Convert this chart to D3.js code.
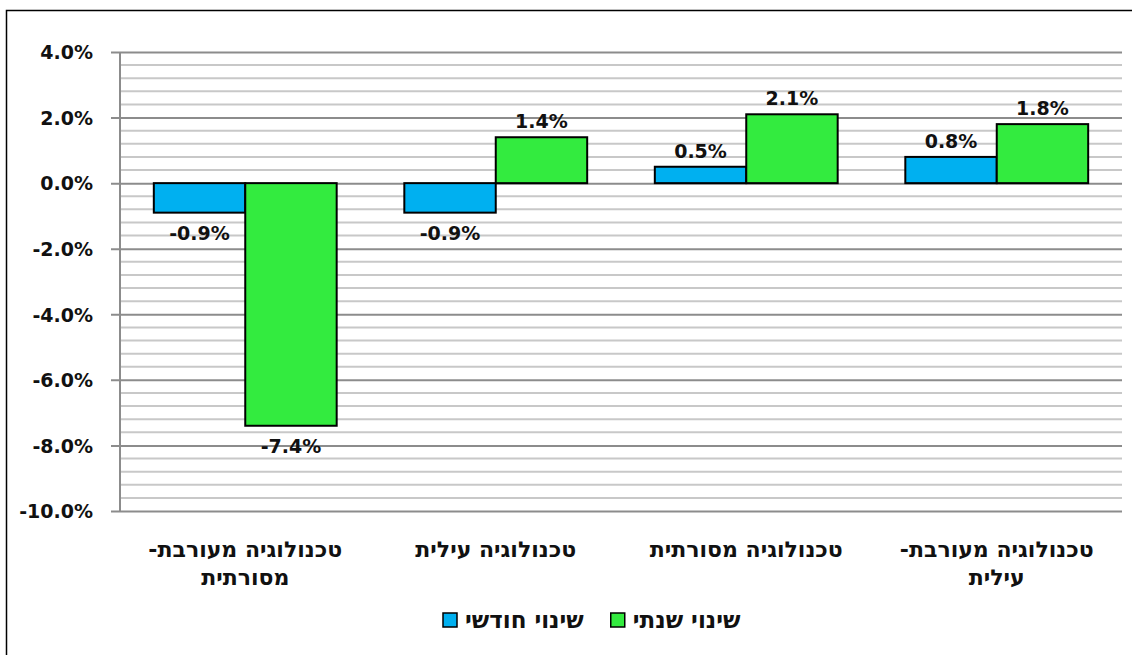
<!DOCTYPE html>
<html>
<head>
<meta charset="utf-8">
<script src="https://cdn.jsdelivr.net/npm/d3@7"></script>
<style>
  body { margin: 0; background: #fff; }
  text { font-family: 'DejaVu Sans', sans-serif; fill: #111; }
</style>
</head>
<body>
<div id="chart"></div>
<script>
// categories (each one split into lines) and series values, in %
var categories = [
  ['טכנולוגיה מעורבת-', 'מסורתית'],
  ['טכנולוגיה עילית'],
  ['טכנולוגיה מסורתית'],
  ['טכנולוגיה מעורבת-', 'עילית']
];
var monthly = [-0.9, -0.9, 0.5, 0.8];
var yearly = [-7.4, 1.4, 2.1, 1.8];
var seriesNames = ['שינוי חודשי', 'שינוי שנתי'];
var seriesColors = ['#00b0f0', '#33eb3f'];
var yTicks = [4, 2, 0, -2, -4, -6, -8, -10];

var W = 1132, H = 655;
var margin = { top: 52, right: 10, bottom: 144, left: 120 };
var width = 1122 - margin.left;
var height = 511 - margin.top;

var svg = d3.select('#chart').append('svg')
  .attr('width', W)
  .attr('height', H);

// outer frame
svg.append('rect')
  .attr('x', 6.5).attr('y', 10.5)
  .attr('width', W).attr('height', H)
  .attr('fill', 'none')
  .attr('stroke', '#000')
  .attr('stroke-width', 1.5);

var g = svg.append('g')
  .attr('transform', 'translate(' + margin.left + ',' + margin.top + ')');

var y = d3.scaleLinear().domain([-10, 4]).range([height, 0]);
var x0 = d3.scaleBand().domain(d3.range(categories.length)).range([0, width]).paddingInner(0.27).paddingOuter(0.135);
var x1 = d3.scaleBand().domain([0, 1]).range([0, x0.bandwidth()]);

// minor grid
var minor = d3.range(-10, 4.001, 0.4).filter(function (v) {
  return Math.abs(Math.round(v / 2) * 2 - v) > 0.01;
});
g.selectAll('.minor').data(minor).enter().append('line')
  .attr('x1', 0).attr('x2', width)
  .attr('y1', function (d) { return y(d); })
  .attr('y2', function (d) { return y(d); })
  .attr('stroke', '#c8c8c8')
  .attr('stroke-width', 2);

// y axis with major grid
var yAxis = g.append('g')
  .call(d3.axisLeft(y).tickValues(yTicks).tickSize(-width).tickSizeOuter(0)
    .tickFormat(function (d) { return d.toFixed(1) + '%'; }));
yAxis.select('.domain').remove();
yAxis.selectAll('.tick line')
  .attr('x1', -9)
  .attr('stroke', '#8c8c8c')
  .attr('stroke-width', 2);
yAxis.selectAll('.tick text')
  .attr('x', -27)
  .attr('dy', '0.36em')
  .style('font-size', '19px')
  .style('font-weight', 'bold')
  .style('font-family', "'DejaVu Sans', sans-serif")
  .attr('fill', '#111');

g.append('line')
  .attr('x1', 0).attr('x2', 0)
  .attr('y1', 0).attr('y2', height)
  .attr('stroke', '#8c8c8c')
  .attr('stroke-width', 2);

// bars
var series = [monthly, yearly];
series.forEach(function (vals, s) {
  var grp = g.append('g');
  grp.selectAll('rect').data(vals).enter().append('rect')
    .attr('x', function (d, i) { return x0(i) + x1(s); })
    .attr('y', function (d) { return y(Math.max(0, d)); })
    .attr('width', x1.bandwidth())
    .attr('height', function (d) { return Math.abs(y(d) - y(0)); })
    .attr('fill', seriesColors[s])
    .attr('stroke', '#000')
    .attr('stroke-width', 2);

  grp.selectAll('text').data(vals).enter().append('text')
    .attr('x', function (d, i) { return x0(i) + x1(s) + x1.bandwidth() / 2; })
    .attr('y', function (d) { return d >= 0 ? y(d) - 9 : y(d) + 27; })
    .attr('text-anchor', 'middle')
    .style('font-size', '19px')
    .style('font-weight', 'bold')
    .text(function (d) { return d.toFixed(1) + '%'; });
});

// category labels
categories.forEach(function (lines, i) {
  lines.forEach(function (line, k) {
    g.append('text')
      .attr('x', x0(i) + x0.bandwidth() / 2)
      .attr('y', height + 46 + k * 28)
      .attr('text-anchor', 'middle')
      .attr('direction', 'rtl')
      .style('font-size', '22px')
      .style('font-weight', 'bold')
      .text(line);
  });
});

// legend
var legend = svg.append('g').attr('transform', 'translate(443,620)');
var lx = 0;
seriesNames.forEach(function (name, s) {
  legend.append('rect')
    .attr('x', lx).attr('y', -7)
    .attr('width', 14).attr('height', 14)
    .attr('fill', seriesColors[s])
    .attr('stroke', '#000')
    .attr('stroke-width', 1.5);
  var t = legend.append('text')
    .attr('x', lx + 22)
    .attr('y', 8)
    .style('font-size', '23px')
    .style('font-weight', 'bold')
    .text(name);
  lx += 22 + t.node().getComputedTextLength() + 27;
});
</script>
</body>
</html>
